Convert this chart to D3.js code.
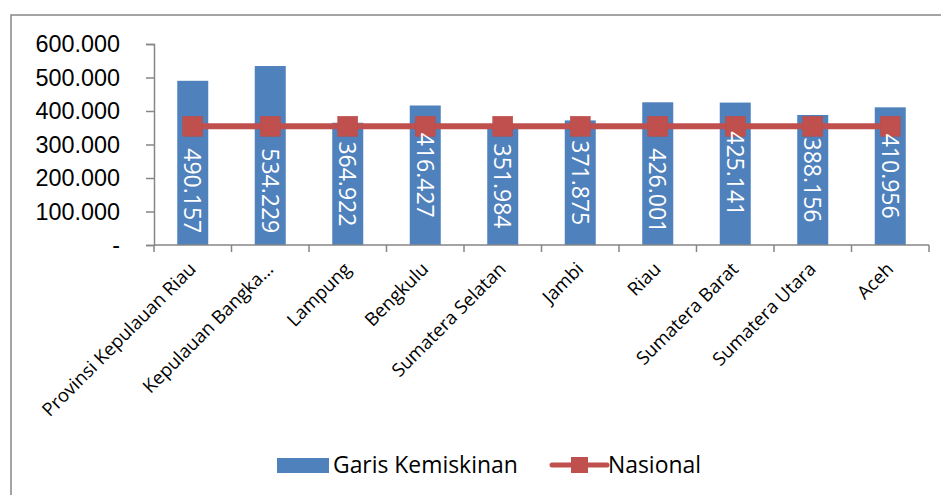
<!DOCTYPE html>
<html>
<head>
<meta charset="utf-8">
<script src="https://cdn.jsdelivr.net/npm/d3@7"></script>
<style>
  html, body { margin: 0; padding: 0; background: #fff; }
  svg { display: block; font-family: "Open Sans", "Liberation Sans", sans-serif; }
</style>
</head>
<body>
<div id="chart"></div>
<script>
const provinces = ["Provinsi Kepulauan Riau", "Kepulauan Bangka...", "Lampung", "Bengkulu",
  "Sumatera Selatan", "Jambi", "Riau", "Sumatera Barat", "Sumatera Utara", "Aceh"];
const garisKemiskinan = [490157, 534229, 364922, 416427, 351984, 371875, 426001, 425141, 388156, 410956];
const nasional = [354386, 354386, 354386, 354386, 354386, 354386, 354386, 354386, 354386, 354386];
const yTicks = [0, 100000, 200000, 300000, 400000, 500000, 600000];

const width = 941, height = 495;
const area = { left: 154, right: 929, top: 44, bottom: 245 };
const blue = "#4F81BD", red = "#C0504D", axisGrey = "#868686";
const markerSize = 20;

const idLocale = d3.formatLocale({ decimal: ",", thousands: ".", grouping: [3], currency: ["Rp", ""] });
const fmt = idLocale.format(",.0f");
const tickFmt = d => d === 0 ? "-" : fmt(d);

const svg = d3.select("#chart").append("svg")
  .attr("width", width)
  .attr("height", height);

// outer chart border
svg.append("rect")
  .attr("x", 11).attr("y", 15)
  .attr("width", width).attr("height", height)
  .attr("fill", "none")
  .attr("stroke", axisGrey)
  .attr("stroke-width", 1.5);

const x = d3.scaleBand()
  .domain(provinces)
  .range([area.left, area.right])
  .paddingInner(0.6)
  .paddingOuter(0.3);

const y = d3.scaleLinear()
  .domain([0, 600000])
  .range([area.bottom, area.top]);

// y axis
const yAxis = svg.append("g")
  .attr("transform", `translate(${area.left},0)`)
  .call(d3.axisLeft(y).tickValues(yTicks).tickFormat(tickFmt).tickSize(8).tickPadding(26));
yAxis.select(".domain").attr("stroke", axisGrey).attr("stroke-width", 1.5);
yAxis.selectAll(".tick line").attr("stroke", axisGrey).attr("stroke-width", 1.5);
yAxis.selectAll(".tick text")
  .attr("fill", "#000")
  .style("font-size", "23.4px");

// bars
svg.append("g")
  .selectAll("rect")
  .data(garisKemiskinan)
  .join("rect")
  .attr("x", (d, i) => x(provinces[i]))
  .attr("y", d => y(d))
  .attr("width", x.bandwidth())
  .attr("height", d => y(0) - y(d))
  .attr("fill", blue);

// x axis with ticks at category boundaries
const step = (area.right - area.left) / provinces.length;
const xAxis = svg.append("g");
xAxis.append("line")
  .attr("x1", area.left).attr("x2", area.right)
  .attr("y1", area.bottom).attr("y2", area.bottom)
  .attr("stroke", axisGrey).attr("stroke-width", 1.5);
xAxis.selectAll("line.tk")
  .data(d3.range(provinces.length + 1))
  .join("line")
  .attr("class", "tk")
  .attr("x1", i => area.left + i * step).attr("x2", i => area.left + i * step)
  .attr("y1", area.bottom).attr("y2", area.bottom + 7)
  .attr("stroke", axisGrey).attr("stroke-width", 1.5);

xAxis.selectAll("text")
  .data(provinces)
  .join("text")
  .attr("transform", d => `translate(${x(d) + x.bandwidth() / 2 - 5},${area.bottom + 16}) rotate(-45)`)
  .attr("text-anchor", "end")
  .attr("dy", "0.71em")
  .style("font-size", "18.5px")
  .attr("fill", "#000")
  .text(d => d);

// nasional line
const line = d3.line()
  .x((d, i) => x(provinces[i]) + x.bandwidth() / 2)
  .y(d => y(d));

svg.append("path")
  .datum(nasional)
  .attr("d", line)
  .attr("fill", "none")
  .attr("stroke", red)
  .attr("stroke-width", 6);

svg.append("g")
  .selectAll("rect")
  .data(nasional)
  .join("rect")
  .attr("x", (d, i) => x(provinces[i]) + x.bandwidth() / 2 - markerSize / 2)
  .attr("y", d => y(d) - markerSize / 2)
  .attr("width", markerSize).attr("height", markerSize)
  .attr("fill", red)
  .attr("stroke", "#b94a47")
  .attr("stroke-width", 0.5);

// bar value labels, rotated; centred in the bar unless that would sit on the marker
const labels = svg.append("g")
  .selectAll("text")
  .data(garisKemiskinan)
  .join("text")
  .attr("text-anchor", "middle")
  .attr("dy", "0.36em")
  .attr("fill", "#fff")
  .style("font-size", "23px")
  .text(d => fmt(d));

labels.attr("transform", function (d, i) {
  const half = this.getComputedTextLength() / 2;
  const markerBottom = y(nasional[i]) + markerSize / 2;
  let cy = (y(d) + y(0)) / 2;
  if (cy - half < markerBottom - 5) cy = Math.max(cy, markerBottom + half + 12);
  return `translate(${x(provinces[i]) + x.bandwidth() / 2},${cy}) rotate(90)`;
});

// legend
const legend = svg.append("g");
legend.append("rect")
  .attr("x", 277).attr("y", 458)
  .attr("width", 52).attr("height", 15)
  .attr("fill", blue);
legend.append("text")
  .attr("x", 333).attr("y", 473)
  .style("font-size", "22.9px")
  .text("Garis Kemiskinan");
legend.append("line")
  .attr("x1", 552).attr("x2", 607)
  .attr("y1", 465).attr("y2", 465)
  .attr("stroke", red).attr("stroke-width", 5)
  .attr("stroke-linecap", "round");
legend.append("rect")
  .attr("x", 571).attr("y", 457)
  .attr("width", 17).attr("height", 16)
  .attr("fill", red);
legend.append("text")
  .attr("x", 608).attr("y", 473)
  .style("font-size", "22.9px")
  .text("Nasional");
</script>
</body>
</html>
